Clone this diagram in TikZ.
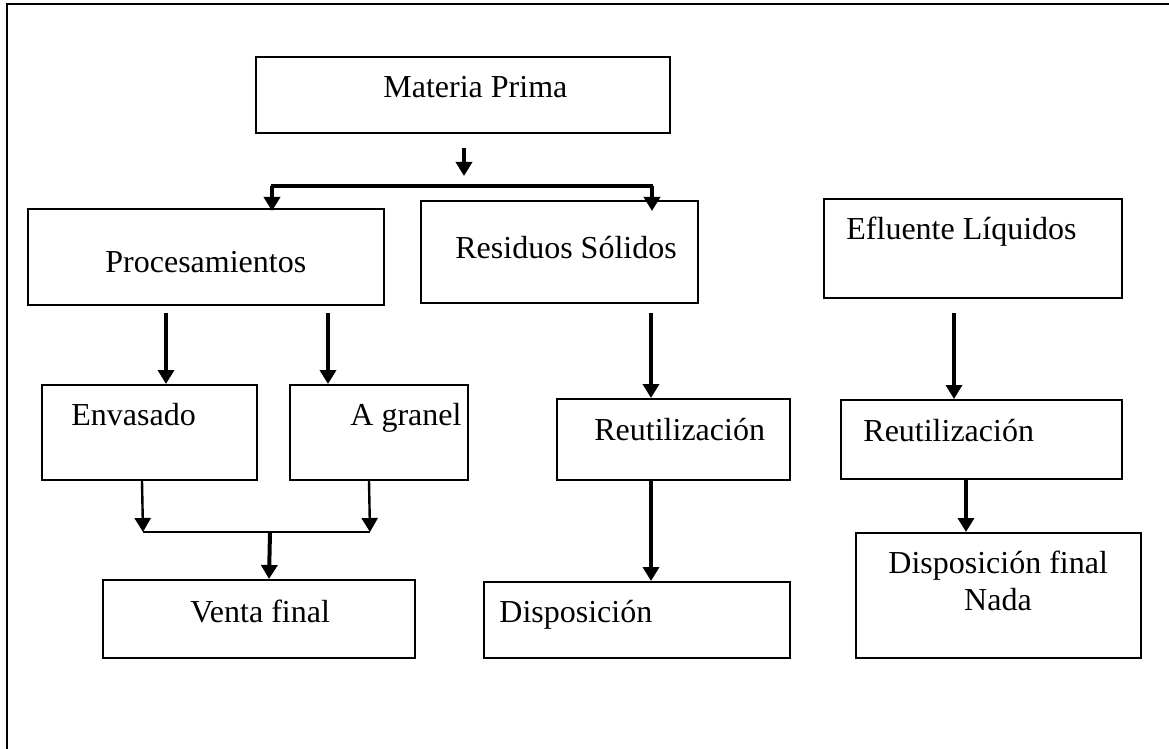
\documentclass[tikz,border=0pt]{standalone}
\usepackage{fontspec}
\setmainfont{Liberation Serif}
\usetikzlibrary{arrows.meta,fit,calc}
\begin{document}
\begin{tikzpicture}[x=0.5pt,y=-0.5pt,
  box/.style={draw,line width=1pt,inner sep=0pt,rectangle},
  lbl/.style={anchor=base west,inner sep=0pt,font=\fontsize{16}{19}\selectfont},
  arr/.style={line width=2pt,-{Triangle[width=8pt,length=7pt]}},
  thinarr/.style={line width=1.2pt,-{Triangle[width=8pt,length=7pt]}},
  barline/.style={line width=2pt},
  thinline/.style={line width=1pt}]
\useasboundingbox (0,0) rectangle (1169,749);
% frame (left and top only)
\draw[line width=1pt] (7,749) -- (7,4) -- (1169,4);

% boxes
\node[box,fit={(256,57)(670,133)}] (mp) {};
\node[box,fit={(28,209)(384,305)}] (proc) {};
\node[box,fit={(421,201)(698,303)}] (res) {};
\node[box,fit={(824,199)(1122,298)}] (efl) {};
\node[box,fit={(42,385)(257,480)}] (env) {};
\node[box,fit={(290,385)(468,480)}] (gra) {};
\node[box,fit={(557,399)(790,480)}] (reu1) {};
\node[box,fit={(841,400)(1122,479)}] (reu2) {};
\node[box,fit={(103,580)(415,658)}] (venta) {};
\node[box,fit={(484,582)(790,658)}] (disp) {};
\node[box,fit={(856,533)(1141,658)}] (dfin) {};

% labels
\node[lbl] (mpt) at (383,98) {Materia Prima};
\node[lbl] (proct) at (105,272) {Procesamientos};
\node[lbl] (rest) at (455,259) {Residuos Sólidos};
\node[lbl] (eflt) at (846,240) {Efluente Líquidos};
\node[lbl] (envt) at (71,425) {Envasado};
\node[lbl] (grat) at (350,425) {A granel};
\node[lbl] (reu1t) at (594,440) {Reutilización};
\node[lbl] (reu2t) at (863,441) {Reutilización};
\node[lbl] (ventat) at (190,622) {Venta final};
\node[lbl] (dispt) at (499,622) {Disposición};
\node[lbl] (dfint) at (888,573) {Disposición final};
\node[lbl,anchor=base] (nadat) at (998,610) {Nada};

% top connectors
\draw[arr] ($(mp.south west)+(209,14)$) -- ($(mp.south west)+(209,42)$);
\coordinate (bl) at (272,186);
\coordinate (br) at (652,186);
\draw[barline] ($(bl)+(-1,0)$) -- ($(br)+(1,0)$);
\draw[arr] (bl) -- ($(bl |- proc.north)+(0,3)$);
\draw[arr] (br) -- ($(br |- res.north)+(0,11)$);

% procesamientos branches
\draw[arr] ($(proc.south west)+(139,7)$) -- ($(env.north west)+(125,0)$);
\draw[arr] ($(proc.south west)+(301,7)$) -- ($(gra.north west)+(39,0)$);

% residuos column
\draw[arr] ($(res.south west)+(231,9)$) -- ($(reu1.north west)+(95,0)$);
\draw[arr] ($(reu1.south west)+(95,0)$) -- ($(disp.north west)+(168,0)$);

% efluente column
\draw[arr] ($(efl.south west)+(131,14)$) -- ($(reu2.north west)+(114,0)$);
\draw[arr] ($(reu2.south west)+(126,0)$) -- ($(dfin.north west)+(111,0)$);

% merge to venta final
\coordinate (jl) at (143,532);
\coordinate (jr) at (370,532);
\coordinate (jm) at (270,532);
\draw[thinarr] ($(env.south west)+(101,0)$) -- (jl);
\draw[thinarr] ($(gra.south west)+(80,0)$) -- (jr);
\draw[thinline] (jl) -- (jr);
\draw[arr] (jm) -- ($(venta.north west)+(167,0)$);
\end{tikzpicture}
\end{document}
